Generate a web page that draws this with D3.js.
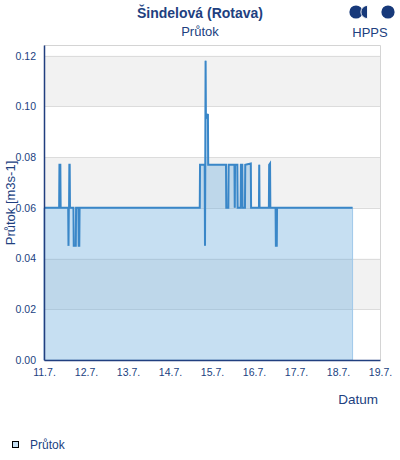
<!DOCTYPE html>
<html>
<head>
<meta charset="utf-8">
<script src="https://cdn.jsdelivr.net/npm/d3@7"></script>
<style>
  body { margin: 0; background: #fff; }
  text { font-family: "Liberation Sans", Arial, sans-serif; }
</style>
</head>
<body>
<svg width="400" height="460"></svg>
<script>
// flow readings (day.month. hh:mm) and values in m3/s
const times = [
  "11.7. 00:00", "11.7. 08:40", "11.7. 08:50", "11.7. 09:20", "11.7. 09:30",
  "11.7. 13:50", "11.7. 14:00", "11.7. 14:10", "11.7. 14:20", "11.7. 14:30", "11.7. 14:40", "11.7. 14:50",
  "11.7. 16:50", "11.7. 17:00", "11.7. 18:10", "11.7. 18:20",
  "11.7. 19:40", "11.7. 19:50", "11.7. 20:10", "11.7. 20:20",
  "14.7. 17:00", "14.7. 17:10", "14.7. 19:50", "14.7. 20:00", "14.7. 20:10",
  "14.7. 20:20", "14.7. 20:30", "14.7. 21:00", "14.7. 21:40", "14.7. 21:50",
  "15.7. 08:00", "15.7. 08:10", "15.7. 09:20", "15.7. 09:30",
  "15.7. 12:50", "15.7. 13:00", "15.7. 13:10", "15.7. 14:30", "15.7. 14:40",
  "15.7. 16:20", "15.7. 16:30", "15.7. 17:20", "15.7. 17:30",
  "15.7. 18:50", "15.7. 19:00", "15.7. 22:10", "15.7. 22:20",
  "16.7. 02:50", "16.7. 03:00", "16.7. 03:10",
  "16.7. 08:30", "16.7. 08:40", "16.7. 09:10", "16.7. 09:20",
  "16.7. 12:20", "16.7. 12:30", "16.7. 13:00", "16.7. 13:10",
  "18.7. 08:20"
];
const values = [
  0.06, 0.06, 0.077, 0.077, 0.06,
  0.06, 0.045, 0.06, 0.06, 0.077, 0.077, 0.06,
  0.06, 0.045, 0.045, 0.06,
  0.06, 0.045, 0.045, 0.06,
  0.06, 0.077, 0.077, 0.045, 0.077,
  0.118, 0.097, 0.096, 0.097, 0.077,
  0.077, 0.06, 0.06, 0.077,
  0.077, 0.06, 0.077, 0.077, 0.06,
  0.06, 0.077, 0.077, 0.06,
  0.06, 0.077, 0.0775, 0.06,
  0.06, 0.077, 0.06,
  0.06, 0.077, 0.0775, 0.06,
  0.06, 0.045, 0.045, 0.06,
  0.06
];
const yTicks = [0, 0.02, 0.04, 0.06, 0.08, 0.10, 0.12];
const xTickDays = ["11.7.", "12.7.", "13.7.", "14.7.", "15.7.", "16.7.", "17.7.", "18.7.", "19.7."];

const navy = "#213f7f";
const parse = d3.timeParse("%d.%m. %H:%M");
const data = times.map((t, i) => ({ date: parse(t), value: values[i] }));

const svg = d3.select("svg");
const plotL = 44, plotR = 380, plotT = 45, plotB = 360;

const x = d3.scaleTime()
  .domain([parse("11.7. 00:00"), parse("19.7. 00:00")])
  .range([plotL, plotR]);
const y = d3.scaleLinear()
  .domain([0, 0.1242])
  .range([plotB, plotT]);

// alternating bands
const bands = [[0.02, 0.04], [0.06, 0.08], [0.10, 0.12]];
svg.selectAll("rect.band").data(bands).enter().append("rect")
  .attr("class", "band")
  .attr("x", plotL).attr("width", plotR - plotL)
  .attr("y", d => y(d[1])).attr("height", d => y(d[0]) - y(d[1]))
  .attr("fill", "#f2f2f2");

// grid lines
svg.selectAll("line.grid").data(yTicks.slice(1)).enter().append("line")
  .attr("x1", plotL).attr("x2", plotR)
  .attr("y1", d => Math.round(y(d)) + 0.5).attr("y2", d => Math.round(y(d)) + 0.5)
  .attr("stroke", "#dcdcdc");

// frame top / right
svg.append("path")
  .attr("d", `M${plotL},${plotT + 0.5}H${plotR + 0.5}V${plotB}`)
  .attr("fill", "none").attr("stroke", "#d4d4d4");

// area + line
const area = d3.area().x(d => x(d.date)).y0(y(0)).y1(d => y(d.value));
svg.append("path").datum(data)
  .attr("d", area)
  .attr("fill", "rgb(107,172,221)").attr("fill-opacity", 0.385)
  .attr("stroke", "#9fc8ea").attr("stroke-width", 1);

const line = d3.line().x(d => x(d.date)).y(d => y(d.value));
svg.append("path").datum(data)
  .attr("d", line)
  .attr("fill", "none").attr("stroke", "#3a87c8").attr("stroke-width", 2);

// axes
const yAxis = svg.append("g")
  .attr("transform", `translate(${plotL},0)`)
  .call(d3.axisLeft(y).tickValues(yTicks).tickSize(0).tickPadding(8).tickFormat(d3.format(".2f")));
yAxis.select(".domain").attr("stroke", navy).attr("stroke-width", 1.5);
yAxis.selectAll("text").attr("fill", navy).style("font-size", "10.5px")
  .style("font-family", "Liberation Sans, Arial, sans-serif");

const xAxis = svg.append("g")
  .attr("transform", `translate(0,${plotB})`)
  .call(d3.axisBottom(x).tickValues(xTickDays.map(d => parse(d + " 00:00")))
    .tickSize(0).tickPadding(9).tickFormat(d3.timeFormat("%-d.%-m.")));
xAxis.select(".domain").attr("stroke", navy).attr("stroke-width", 1.5);
xAxis.selectAll("text").attr("fill", navy).style("font-size", "10.5px")
  .style("font-family", "Liberation Sans, Arial, sans-serif");

// titles
svg.append("text").attr("x", 200).attr("y", 18).attr("text-anchor", "middle")
  .attr("fill", navy).style("font-size", "14px").style("font-weight", "bold")
  .text("Šindelová (Rotava)");
svg.append("text").attr("x", 200).attr("y", 36).attr("text-anchor", "middle")
  .attr("fill", navy).style("font-size", "13px")
  .text("Průtok");

svg.append("text")
  .attr("transform", "translate(15,203) rotate(-90)")
  .attr("text-anchor", "middle").attr("fill", navy).style("font-size", "13px")
  .text("Průtok [m3s-1]");

svg.append("text").attr("x", 378).attr("y", 404).attr("text-anchor", "end")
  .attr("fill", navy).style("font-size", "13.5px").text("Datum");

// logo
const logo = svg.append("g").attr("fill", "#17397a");
logo.append("circle").attr("cx", 356).attr("cy", 12).attr("r", 6.6);
logo.append("path").attr("d", "M367.5,5.4 A6.6,6.6 0 0 0 367.5,18.6 Z")
  .attr("stroke", "#fff").attr("stroke-width", 0.9);
logo.append("circle").attr("cx", 388).attr("cy", 12).attr("r", 6.6);
svg.append("text").attr("x", 370).attr("y", 36.5).attr("text-anchor", "middle")
  .attr("fill", navy).style("font-size", "13px").text("HPPS");

// legend
svg.append("rect").attr("x", 12.5).attr("y", 441.5).attr("width", 6).attr("height", 6)
  .attr("fill", "#c6dff2").attr("stroke", "#000");
svg.append("text").attr("x", 30).attr("y", 449).attr("fill", navy)
  .style("font-size", "12px").text("Průtok");
</script>
</body>
</html>
